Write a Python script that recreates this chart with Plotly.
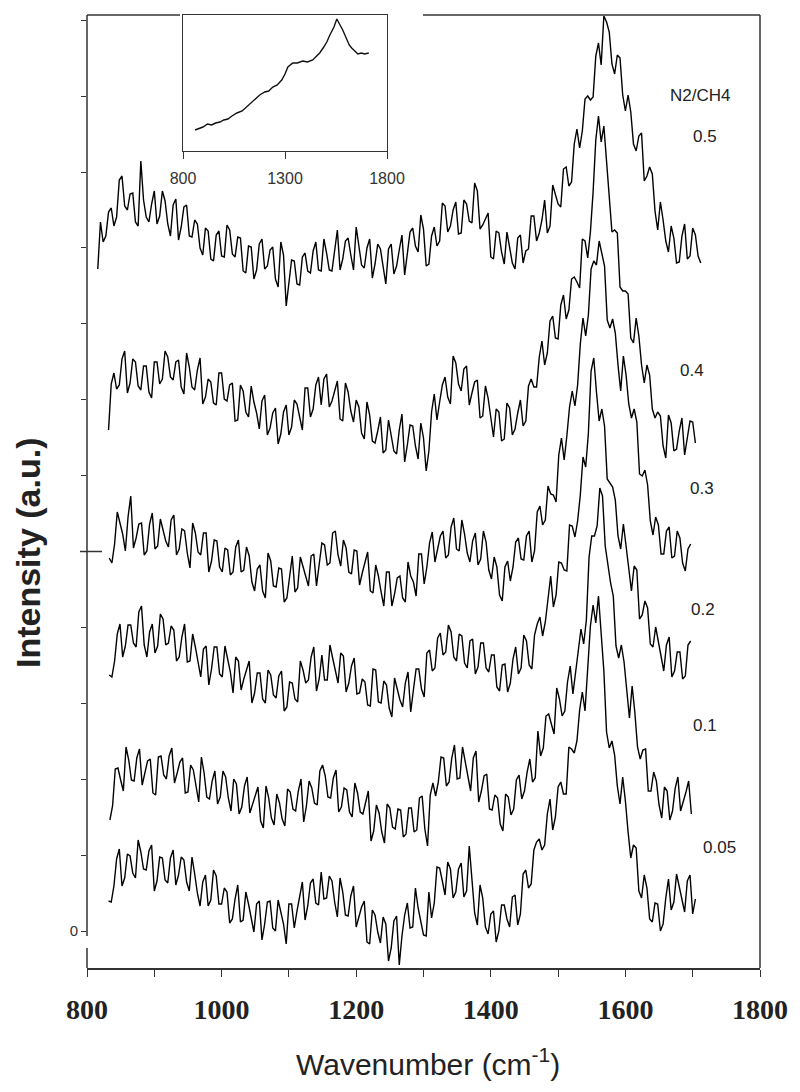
import numpy as np
import plotly.graph_objects as go

# ---------------- data ----------------
ratios = ["0.05", "0.1", "0.2", "0.3", "0.4", "0.5"]
wn_start = [832, 834, 833, 833, 832, 816]
wn_end = [1704, 1698, 1697, 1697, 1704, 1712]

# samples on the main grid
int_005 = [
    30, 45, 82, 53, 75, 53, 79, 61, 86, 50,
    73, 48, 81, 56, 71, 40, 57, 25, 56, 31,
    55, 27, 39, 12, 46, 11, 27, -1, 30, 7,
    30, 0, 18, -13, 27, 20, 49, 25, 52, 26,
    32, 55, 29, 53, 16, 35, 4, 24, -11, 21,
    -1, 14, -30, 10, -34, 16, 3, 43, 8, -5,
    13, 64, 50, 69, 33, 62, 34, 85, 18, 46,
    4, 17, -11, 26, 12, 34, 6, 57, 43, 81,
    92, 86, 132, 114, 149, 137, 182, 190, 239, 268,
    326, 335, 260, 183, 176, 127, 130, 73, 83, 33,
    43, 9, 27, 7, 52, 29, 45, 19, 56, 32]
int_01 = [
    111, 162, 151, 184, 151, 173, 146, 170, 138, 174,
    156, 175, 148, 169, 138, 166, 143, 174, 134, 150,
    127, 160, 133, 152, 117, 145, 118, 135, 110, 145,
    113, 137, 112, 142, 122, 140, 109, 150, 128, 160,
    155, 133, 161, 124, 141, 114, 138, 117, 140, 100,
    118, 88, 123, 102, 121, 97, 123, 101, 135, 85,
    148, 149, 173, 149, 186, 153, 169, 140, 180, 140,
    157, 121, 133, 100, 134, 122, 156, 140, 172, 153,
    175, 215, 206, 243, 215, 249, 237, 282, 287, 374,
    395, 443, 385, 348, 285, 286, 239, 245, 184, 181,
    140, 159, 126, 144, 111, 143, 120, 139, 117]
int_02 = [
    256, 270, 307, 285, 306, 284, 325, 274, 307, 285,
    312, 288, 301, 274, 307, 270, 284, 254, 285, 262,
    284, 254, 271, 238, 270, 252, 270, 238, 258, 228,
    256, 233, 260, 224, 248, 229, 261, 251, 284, 252,
    251, 286, 261, 278, 239, 265, 237, 252, 226, 262,
    229, 250, 223, 253, 231, 248, 219, 262, 242, 278,
    260, 293, 276, 306, 274, 297, 268, 290, 257, 288,
    263, 276, 244, 266, 239, 272, 257, 296, 266, 296,
    314, 309, 355, 336, 368, 360, 405, 410, 474, 498,
    573, 510, 505, 448, 431, 382, 385, 340, 361, 316,
    323, 284, 289, 260, 294, 260, 279, 255, 290]
int_03 = [
    373, 387, 408, 380, 435, 393, 408, 380, 418, 385,
    401, 384, 416, 382, 400, 363, 398, 376, 398, 370,
    390, 359, 381, 359, 391, 361, 375, 340, 366, 333,
    370, 344, 362, 333, 375, 343, 365, 345, 377, 365,
    386, 368, 400, 365, 383, 357, 380, 358, 379, 338,
    355, 325, 359, 337, 355, 329, 355, 335, 377, 364,
    399, 381, 400, 376, 413, 380, 397, 369, 398, 372,
    389, 352, 364, 330, 370, 364, 393, 371, 400, 380,
    425, 411, 437, 429, 493, 495, 540, 546, 613, 616,
    670, 690, 665, 603, 598, 540, 556, 513, 509, 455,
    446, 396, 406, 377, 404, 375, 393, 360, 387]
int_04 = [
    501, 558, 546, 580, 548, 569, 541, 565, 533, 569,
    552, 574, 551, 571, 537, 564, 541, 573, 534, 549,
    526, 558, 530, 548, 511, 540, 514, 529, 502, 536,
    503, 523, 497, 526, 504, 527, 501, 543, 522, 554,
    552, 524, 541, 512, 548, 520, 531, 498, 529, 490,
    500, 478, 511, 480, 501, 469, 506, 485, 508, 460,
    519, 511, 546, 534, 575, 547, 562, 526, 549, 513,
    545, 512, 522, 490, 528, 496, 518, 505, 545, 544,
    574, 566, 610, 593, 626, 612, 652, 649, 692, 673,
    739, 815, 805, 733, 701, 644, 640, 593, 613, 566,
    566, 522, 519, 485, 516, 480, 500, 476, 510, 488]
int_05 = [
    662, 689, 719, 705, 751, 725, 737, 709, 770, 714,
    727, 707, 740, 707, 726, 691, 724, 695, 711, 683,
    703, 672, 696, 675, 706, 677, 694, 660, 685, 652,
    687, 662, 681, 652, 689, 625, 671, 647, 674, 660,
    680, 661, 692, 661, 683, 661, 690, 676, 704, 666,
    683, 653, 687, 664, 682, 657, 681, 656, 699, 685,
    716, 665, 695, 685, 728, 699, 721, 697, 731, 710,
    748, 702, 712, 674, 700, 679, 699, 668, 693, 668,
    682, 715, 698, 731, 705, 736, 724, 764, 749, 802,
    800, 835, 834, 888, 915, 899, 857, 873, 820, 819,
    780, 798, 755, 757, 701, 711, 679, 693, 669, 707,
    675, 696, 668]

# samples half-way between the main-grid samples
mid_005 = [
    29, 72, 45, 77, 58, 91, 62, 80, 40, 74,
    51, 73, 46, 74, 49, 74, 38, 49, 25, 61,
    27, 43, 8, 32, 9, 39, 13, 27, -9, 29,
    3, 31, 7, 27, 3, 35, 11, 48, 28, 59,
    33, 50, 14, 39, 15, 45, 14, 30, -13, 16,
    -12, 7, -17, 15, -5, 28, 4, 23, -4, 39,
    28, 63, 36, 62, 39, 68, 40, 50, 6, 33,
    -3, 20, 0, 26, 4, 36, 17, 61, 47, 89,
    81, 117, 101, 144, 137, 184, 178, 221, 220, 305,
    308, 292, 199, 190, 145, 154, 99, 86, 40, 56,
    12, 28, 0, 33, 21, 57, 32, 50, 17]
mid_01 = [
    125, 163, 140, 171, 150, 182, 158, 172, 136, 175,
    152, 183, 158, 173, 139, 161, 129, 158, 132, 160,
    134, 154, 120, 147, 124, 154, 126, 144, 103, 133,
    106, 128, 105, 139, 120, 152, 125, 143, 126, 166,
    134, 153, 119, 143, 119, 148, 119, 129, 90, 126,
    99, 127, 104, 122, 94, 123, 99, 133, 102, 136,
    135, 174, 145, 173, 152, 184, 155, 173, 129, 155,
    122, 136, 107, 137, 116, 151, 132, 159, 149, 200,
    183, 217, 197, 232, 220, 265, 259, 302, 311, 395,
    405, 435, 366, 335, 273, 269, 213, 219, 172, 182,
    140, 150, 113, 140, 120, 154, 129, 150]
mid_02 = [
    254, 297, 274, 306, 288, 319, 286, 299, 278, 317,
    286, 305, 270, 294, 269, 297, 269, 282, 246, 284,
    257, 285, 259, 274, 241, 261, 228, 258, 232, 261,
    236, 255, 220, 249, 232, 270, 248, 274, 240, 276,
    251, 273, 248, 275, 248, 273, 238, 249, 225, 261,
    228, 246, 214, 243, 224, 259, 241, 262, 234, 281,
    263, 298, 279, 299, 270, 295, 263, 292, 264, 288,
    259, 276, 240, 267, 248, 284, 263, 290, 262, 307,
    295, 332, 324, 369, 361, 406, 394, 436, 464, 560,
    539, 522, 452, 444, 395, 407, 365, 365, 312, 330,
    287, 304, 273, 286, 254, 279, 252, 286]
mid_03 = [
    368, 419, 397, 414, 383, 407, 376, 407, 382, 412,
    390, 411, 376, 402, 378, 408, 379, 398, 359, 391,
    364, 383, 356, 384, 359, 384, 349, 362, 340, 378,
    345, 363, 329, 357, 339, 374, 354, 375, 345, 388,
    366, 398, 376, 391, 359, 381, 346, 370, 340, 366,
    339, 359, 325, 353, 333, 369, 349, 377, 347, 388,
    369, 395, 373, 404, 382, 411, 378, 390, 366, 400,
    361, 374, 336, 364, 350, 389, 372, 395, 369, 419,
    406, 445, 436, 476, 471, 524, 525, 587, 595, 662,
    666, 677, 611, 612, 566, 575, 527, 522, 457, 461,
    410, 414, 377, 400, 373, 400, 368, 382]
mid_04 = [
    547, 542, 572, 538, 572, 545, 565, 539, 569, 547,
    580, 554, 569, 544, 578, 544, 561, 527, 552, 528,
    558, 532, 546, 510, 546, 519, 545, 518, 530, 496,
    518, 487, 519, 496, 531, 515, 543, 514, 546, 526,
    557, 530, 550, 510, 539, 509, 524, 492, 516, 488,
    514, 481, 496, 477, 517, 486, 505, 472, 493, 480,
    537, 529, 554, 527, 568, 540, 565, 538, 551, 515,
    533, 494, 519, 492, 523, 502, 531, 510, 552, 544,
    590, 578, 615, 592, 636, 621, 654, 643, 690, 699,
    791, 789, 769, 699, 698, 640, 637, 588, 595, 548,
    556, 513, 515, 473, 508, 482, 513, 492, 509]
mid_05 = [
    709, 695, 723, 714, 755, 721, 738, 705, 731, 709,
    740, 715, 730, 695, 732, 704, 726, 694, 707, 676,
    700, 670, 700, 674, 701, 674, 693, 658, 684, 661,
    692, 665, 684, 644, 676, 649, 670, 646, 678, 658,
    689, 660, 678, 660, 701, 672, 693, 661, 686, 663,
    692, 667, 682, 647, 687, 665, 696, 678, 703, 679,
    702, 667, 704, 690, 725, 705, 729, 698, 727, 708,
    740, 706, 718, 672, 698, 667, 685, 662, 696, 680,
    715, 690, 711, 698, 746, 727, 762, 745, 787, 783,
    832, 831, 875, 866, 909, 867, 876, 836, 836, 787,
    795, 750, 764, 720, 729, 690, 705, 668, 695, 672,
    703, 675]

spectra = [int_005, int_01, int_02, int_03, int_04, int_05]
spectra_mid = [mid_005, mid_01, mid_02, mid_03, mid_04, mid_05]

inset_wn = [859, 880, 898, 920, 940, 960, 981, 1000, 1020, 1040,
            1064, 1090, 1118, 1140, 1160, 1176, 1201, 1220, 1240, 1262,
            1284, 1300, 1314, 1326, 1338, 1360, 1387, 1410, 1436, 1455,
            1470, 1490, 1505, 1520, 1540, 1554, 1568, 1583, 1600, 1615,
            1627, 1640, 1657, 1675, 1690, 1711]
inset_int = [21, 23, 24, 27, 26, 28, 29, 31, 32, 35,
             38, 40, 45, 49, 53, 56, 59, 60, 64, 66,
             71, 77, 84, 86, 88, 88, 90, 89, 91, 95,
             98, 104, 109, 116, 124, 132, 127, 121, 113, 106,
             103, 100, 97, 98, 97, 98]

x_tick_vals = [800, 1000, 1200, 1400, 1600, 1800]
inset_tick_vals = [800, 1300, 1800]
y_tick_step = 75.9

# ---------------- layout geometry (page pixels) ----------------
PAGE_OFF = 8                      # default body margin of the html page
W, H = 800 - PAGE_OFF, 1092 - PAGE_OFF
P_L, P_R, P_T, P_B = 87, 760, 15, 968   # plot box in page pixels
PW, PH = P_R - P_L, P_B - P_T


def px(xp, yp):
    return (xp - P_L) / PW, (P_B - yp) / PH


fig = go.Figure()

for name, vals, mids, s, e in zip(ratios, spectra, spectra_mid, wn_start, wn_end):
    xm = np.linspace(s, e, len(vals))
    xh = (xm[:-1] + xm[1:]) / 2
    xs, ys = [], []
    for i, v in enumerate(vals):
        xs.append(xm[i]); ys.append(v)
        if i < len(xh) and i < len(mids):
            xs.append(xh[i]); ys.append(mids[i])
    fig.add_trace(go.Scatter(
        x=xs, y=ys, mode="lines", name=name,
        line=dict(color="#000000", width=1.4), showlegend=False,
        xaxis="x", yaxis="y"))

fig.add_trace(go.Scatter(
    x=inset_wn, y=inset_int, mode="lines", showlegend=False,
    line=dict(color="#111111", width=1.4), xaxis="x2", yaxis="y2"))

ix0, iy0 = px(183, 151)
ix1, iy1 = px(387, 15)

fig.update_layout(
    width=W, height=H,
    margin=dict(l=P_L - PAGE_OFF, r=W - (P_R - PAGE_OFF), t=P_T - PAGE_OFF,
                b=H - (P_B - PAGE_OFF), autoexpand=False),
    paper_bgcolor="white", plot_bgcolor="white",
    xaxis=dict(
        domain=[0, 1], range=[800, 1800], showgrid=False, zeroline=False,
        automargin=False,
        showline=True, linecolor="#333333", linewidth=1.5,
        ticks="outside", ticklen=7, tickwidth=1.3, tickcolor="#333333",
        tickvals=x_tick_vals, ticklabelstandoff=9,
        minor=dict(dtick=100, ticks="outside", ticklen=7, tickwidth=1.3,
                   tickcolor="#333333"),
        tickfont=dict(family="Liberation Serif", size=28, color="#222222",
                      weight="bold"),
    ),
    yaxis=dict(
        domain=[0, 1], range=[-37, 916], showgrid=False, zeroline=False,
        automargin=False,
        showline=False, ticks="outside", ticklen=5, tickwidth=1.2,
        tickcolor="#333333", tickvals=[0], ticktext=["0"],
        minor=dict(tick0=0, dtick=y_tick_step, ticks="outside", ticklen=5,
                   tickwidth=1.2, tickcolor="#333333", showgrid=False),
        tickfont=dict(family="Liberation Sans", size=15, color="#333333"),
    ),
    xaxis2=dict(
        domain=[ix0, ix1], anchor="y2", range=[800, 1800], showgrid=False,
        automargin=False,
        zeroline=False, showline=True, mirror=True, linecolor="#333333",
        linewidth=1.3, ticks="outside", ticklen=7, tickwidth=1.2,
        tickcolor="#333333", tickvals=inset_tick_vals, ticklabelstandoff=6,
        tickfont=dict(family="Liberation Sans", size=16, color="#333333"),
    ),
    yaxis2=dict(
        domain=[iy0, iy1], anchor="x2", range=[0, 136], showgrid=False,
        automargin=False,
        zeroline=False, showline=True, mirror=True, linecolor="#333333",
        linewidth=1.3, showticklabels=False, ticks="",
    ),
)

# frame pieces
line_style = dict(color="#333333", width=1.5)
shapes = []
xa, _ = px(180, 15)
xb, _ = px(423, 15)
shapes.append(dict(type="line", xref="paper", yref="paper", x0=0, x1=xa, y0=1, y1=1, line=line_style))
shapes.append(dict(type="line", xref="paper", yref="paper", x0=xb, x1=1, y0=1, y1=1, line=line_style))
shapes.append(dict(type="line", xref="paper", yref="paper", x0=1, x1=1, y0=0, y1=1, line=line_style))
_, yl = px(87, 936)
shapes.append(dict(type="line", xref="paper", yref="paper", x0=0, x1=0, y0=yl, y1=1, line=line_style))
_, ysb = px(87, 948)
shapes.append(dict(type="line", xref="paper", yref="paper", x0=0, x1=0, y0=0, y1=ysb, line=line_style))
lx0, _ = px(80, 0)
lx1, _ = px(102, 0)
shapes.append(dict(type="line", xref="paper", yref="y", x0=lx0, x1=lx1,
                   y0=5 * y_tick_step, y1=5 * y_tick_step, line=line_style))
fig.update_layout(shapes=shapes)

# labels
label_pos = {"N2/CH4": (700, 96), "0.5": (705, 137), "0.4": (692, 370),
             "0.3": (702, 489), "0.2": (703, 609), "0.1": (705, 725),
             "0.05": (719, 847)}
for txt, (xp_, yp_) in label_pos.items():
    ax_, ay_ = px(xp_, yp_)
    fig.add_annotation(x=ax_, y=ay_, xref="paper", yref="paper", text=txt,
                       showarrow=False, xanchor="center", yanchor="middle",
                       font=dict(family="Liberation Sans", size=17, color="#222222"))

tx, ty = px(428, 1062)
fig.add_annotation(x=tx, y=ty, xref="paper", yref="paper",
                   text="Wavenumber (cm<sup>-1</sup>)", showarrow=False,
                   xanchor="center", yanchor="middle",
                   font=dict(family="Liberation Sans", size=30, color="#222222"))
yx, yy = px(28, 553)
fig.add_annotation(x=yx, y=yy, xref="paper", yref="paper",
                   text="<b>Intensity (a.u.)</b>", showarrow=False, textangle=-90,
                   xanchor="center", yanchor="middle",
                   font=dict(family="Liberation Sans", size=34, color="#222222"))

fig.write_html("out.html")
